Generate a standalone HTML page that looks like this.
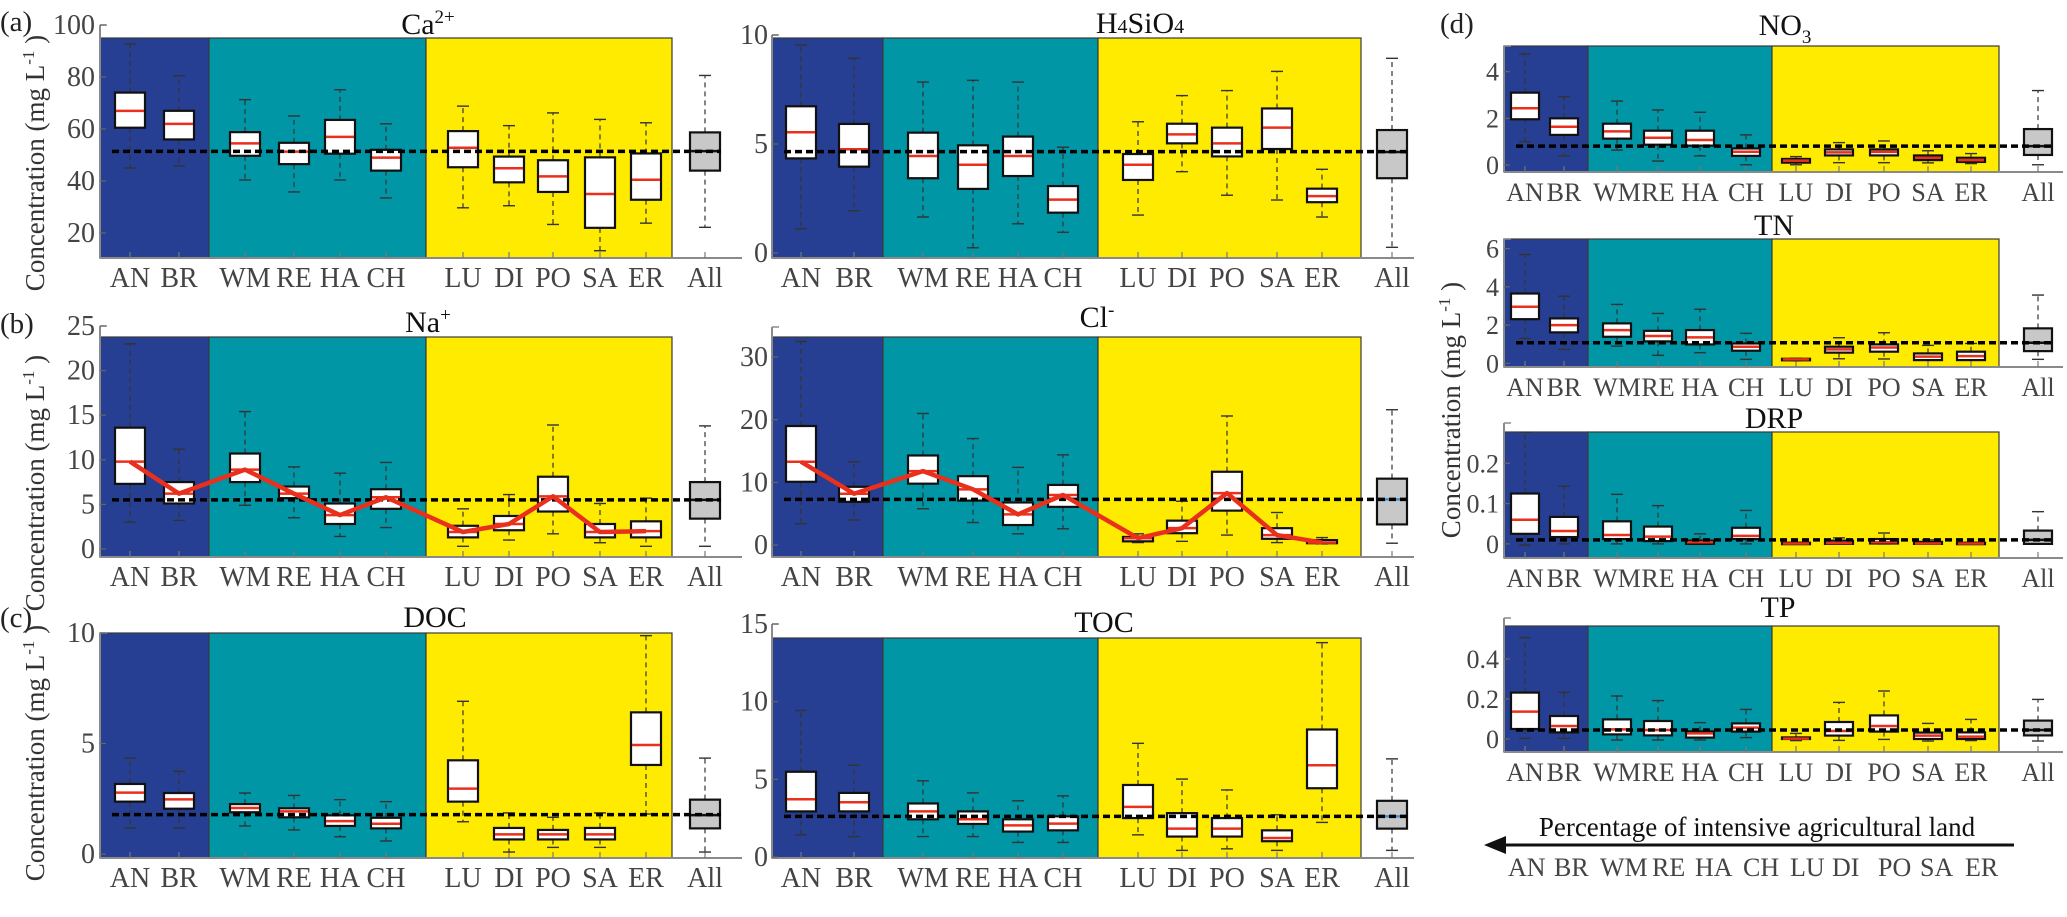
<!DOCTYPE html>
<html><head><meta charset="utf-8"><style>
html,body{margin:0;padding:0;background:#fff;}
svg, svg text{font-family:"Liberation Serif","Times New Roman",serif;}
</style></head><body>
<svg id="fig" width="2067" height="912" viewBox="0 0 2067 912" xmlns="http://www.w3.org/2000/svg" font-family="Liberation Serif, serif">
<g id="layer"></g>
<g id="static">
<text x="0" y="31" font-size="29" fill="#222">(a)</text>
<text x="0" y="333" font-size="29" fill="#222">(b)</text>
<text x="0" y="627" font-size="29" fill="#222">(c)</text>
<text x="1440" y="33" font-size="29" fill="#222">(d)</text>
<text transform="translate(44,163) rotate(-90)" text-anchor="middle" font-size="27" fill="#333">Concentration (mg L<tspan dy="-10" font-size="17">-1</tspan><tspan dy="10"> )</tspan></text>
<text transform="translate(44,483) rotate(-90)" text-anchor="middle" font-size="27" fill="#333">Concentration (mg L<tspan dy="-10" font-size="17">-1</tspan><tspan dy="10"> )</tspan></text>
<text transform="translate(44,753) rotate(-90)" text-anchor="middle" font-size="27" fill="#333">Concentration (mg L<tspan dy="-10" font-size="17">-1</tspan><tspan dy="10"> )</tspan></text>
<text transform="translate(1460,410) rotate(-90)" text-anchor="middle" font-size="27" fill="#333">Concentration (mg L<tspan dy="-10" font-size="17">-1</tspan><tspan dy="10"> )</tspan></text>
<g>
<text x="1757" y="836" text-anchor="middle" font-size="27" fill="#111">Percentage of intensive agricultural land</text>
<line x1="1500" y1="845" x2="2014" y2="845" stroke="#111" stroke-width="3"/>
<polygon points="1484,845 1506,836 1506,854" fill="#111"/>
<text y="876" font-size="26" fill="#444"><tspan x="1508">AN</tspan><tspan x="1554">BR</tspan><tspan x="1600">WM</tspan><tspan x="1652">RE</tspan><tspan x="1695">HA</tspan><tspan x="1743">CH</tspan><tspan x="1790">LU</tspan><tspan x="1832">DI</tspan><tspan x="1878">PO</tspan><tspan x="1920">SA</tspan><tspan x="1965">ER</tspan></text>
</g>
</g>
</svg>
<script>
const categories=['AN','BR','WM','RE','HA','CH','LU','DI','PO','SA','ER','All'];

const caLow=[45,45.8,40.4,35.8,40.4,33.5,29.7,30.5,23.3,13.2,23.8,22.2];
const caQ1=[60.5,56,49.7,46.5,50.5,44,45.3,39.5,35.8,22,32.8,44];
const caMed=[67,62,54.5,51.3,57,49,52.8,44.9,41.8,35,40.5,51.5];
const caQ3=[74,67,58.8,54.7,63.5,52,59.2,49.4,48,49.1,50.6,58.7];
const caHigh=[92.7,80.5,71.3,65,75.1,62,68.8,61.3,66.2,63.7,62.4,80.6];
const caMean=51.4;
const caTicks=[20,40,60,80,100];

const siLow=[1.11,1.94,1.65,0.24,1.34,0.95,1.74,3.73,2.65,2.43,1.65,0.26];
const siQ1=[4.34,3.96,3.43,2.94,3.53,1.85,3.35,5.03,4.43,4.77,2.33,3.43];
const siMed=[5.54,4.76,4.45,4.05,4.45,2.45,4.05,5.44,5.03,5.75,2.61,4.63];
const siQ3=[6.73,5.92,5.52,4.94,5.34,3.07,4.54,5.93,5.75,6.63,2.95,5.64];
const siHigh=[9.54,8.93,7.84,7.92,7.84,4.85,6.02,7.22,7.45,8.33,3.84,8.93];
const siMean=4.65;
const siTicks=[0,5,10];

const naLow=[3,3.2,4.9,3.5,1.4,2.4,0.3,1.0,1.7,0.7,0.3,0.3];
const naQ1=[7.3,5.1,7.5,5.7,2.8,4.5,1.3,2.1,4.2,1.3,1.3,3.4];
const naMed=[9.8,6.2,8.9,6.2,3.8,5.8,1.9,2.8,5.9,1.9,2.0,5.5];
const naQ3=[13.6,7.5,10.7,7.0,5.1,6.7,2.6,3.7,8.1,2.8,3.1,7.5];
const naHigh=[23,11.2,15.4,9.2,8.5,9.7,4.5,6.1,13.9,5.1,5.7,13.8];
const naMean=5.5;
const naTicks=[0,5,10,15,20,25];

const clLow=[3.4,4,5.8,3.6,1.8,2.6,0.4,0.6,1.6,0.4,0.2,0.3];
const clQ1=[10.1,6.9,9.8,7.1,3.2,6.1,0.6,1.9,5.5,1.0,0.3,3.3];
const clMed=[13.3,8.2,11.8,8.9,4.9,8.0,1.1,2.7,8.3,1.6,0.4,7.3];
const clQ3=[19,9.3,14.3,11,6.8,9.6,1.3,3.9,11.7,2.7,0.8,10.6];
const clHigh=[32.5,13.3,21,17,12.4,14.4,1.8,7,20.6,5.2,1.2,21.6];
const clMean=7.3;
const clTicks=[0,10,20,30];

const docLow=[1.18,1.18,1.27,1.09,0.78,0.59,1.46,0.09,0.3,0.3,1.81,0.09];
const docQ1=[2.37,2.05,1.89,1.66,1.27,1.16,2.37,0.66,0.66,0.66,4.03,1.16];
const docMed=[2.78,2.47,2.08,1.93,1.49,1.37,2.96,0.89,0.89,0.89,4.93,1.76];
const docQ3=[3.17,2.76,2.26,2.07,1.75,1.64,4.24,1.18,1.09,1.18,6.41,2.46];
const docHigh=[4.34,3.74,2.76,2.65,2.46,2.37,6.91,1.86,1.66,1.86,9.88,4.34];
const docMean=1.78;
const docTicks=[0,5,10];

const tocLow=[1.43,1.32,1.32,1.32,0.94,0.94,1.43,0.43,0.53,0.43,2.23,0.43];
const tocQ1=[2.94,2.94,2.43,2.13,1.64,1.72,2.51,1.32,1.32,1.02,4.43,1.83];
const tocMed=[3.72,3.53,2.94,2.43,2.04,2.15,3.23,1.83,1.83,1.23,5.91,2.62];
const tocQ3=[5.49,4.13,3.45,2.94,2.43,2.62,4.64,2.83,2.51,1.72,8.21,3.62];
const tocHigh=[9.43,5.91,4.91,4.13,3.62,3.94,7.32,5.02,4.32,2.72,13.8,6.32];
const tocMean=2.62;
const tocTicks=[0,5,10,15];

const no3Low=[1.0,0.39,0.64,0.17,0.39,0.01,0.01,0.1,0.1,0.09,0.06,0.01];
const no3Q1=[1.96,1.29,1.13,0.87,0.83,0.39,0.1,0.41,0.41,0.21,0.13,0.43];
const no3Med=[2.43,1.64,1.44,1.17,1.07,0.57,0.19,0.54,0.56,0.31,0.21,0.81];
const no3Q3=[3.1,2.0,1.77,1.47,1.47,0.71,0.26,0.67,0.67,0.41,0.31,1.54];
const no3High=[4.76,2.93,2.74,2.36,2.26,1.29,0.36,0.96,1.03,0.61,0.49,3.19];
const no3Mean=0.81;
const no3Ticks=[0,2,4];

const tnLow=[1.3,0.73,0.9,0.42,0.56,0.21,0.14,0.24,0.23,0.17,0.17,0.21];
const tnQ1=[2.31,1.62,1.39,1.15,0.99,0.66,0.16,0.56,0.61,0.17,0.17,0.64];
const tnMed=[2.96,2.0,1.74,1.43,1.36,0.87,0.21,0.73,0.83,0.35,0.38,1.08];
const tnQ3=[3.65,2.35,2.09,1.7,1.74,1.04,0.24,0.87,0.99,0.52,0.61,1.83];
const tnHigh=[5.69,3.51,3.08,2.61,2.83,1.57,0.26,1.34,1.6,0.94,1.04,3.57];
const tnMean=1.08;
const tnTicks=[0,2,4,6];

const drpLow=[-0.003,0,0,0,0,0,0,0,0,0,0,0];
const drpQ1=[0.025,0.017,0.012,0.007,0,0.012,0,0,0.001,0,0,0];
const drpMed=[0.06,0.032,0.022,0.018,0.004,0.02,0.001,0.002,0.004,0.001,0.001,0.01];
const drpQ3=[0.125,0.067,0.056,0.043,0.008,0.04,0.003,0.008,0.012,0.005,0.003,0.033];
const drpHigh=[0.277,0.143,0.123,0.095,0.025,0.083,0.004,0.015,0.027,0.01,0.004,0.08];
const drpMean=0.01;
const drpTicks=[0,0.1,0.2];

const tpLow=[0.003,0.003,-0.005,-0.005,-0.005,0.007,-0.008,-0.007,-0.002,-0.01,-0.008,-0.01];
const tpQ1=[0.05,0.033,0.023,0.018,0.007,0.037,0,0.017,0.037,0,0,0.018];
const tpMed=[0.137,0.065,0.048,0.045,0.028,0.057,0.002,0.04,0.065,0.017,0.012,0.045];
const tpQ3=[0.232,0.115,0.098,0.09,0.038,0.078,0.008,0.085,0.118,0.032,0.033,0.092];
const tpHigh=[0.507,0.233,0.215,0.192,0.082,0.148,0.028,0.183,0.24,0.078,0.098,0.198];
const tpMean=0.045;
const tpTicks=[0,0.2,0.4];

// ---- layout (not data) ----
const LEFT={x0:100,xEnd:742,blueEnd:209,tealEnd:426,yellowEnd:672,pos:[130,179,245,294,340,386,463,509,553,600,646,705],bw:30,tickX:95,fs:28};
const MID={x0:772,xEnd:1414,blueEnd:883,tealEnd:1098,yellowEnd:1361,pos:[801,854,923,973,1018,1063,1138,1182,1227,1277,1322,1392],bw:30,tickX:768,fs:28};
const RIGHT={x0:1504,xEnd:2063,blueEnd:1588,tealEnd:1772,yellowEnd:1999,pos:[1525,1564,1617,1658,1700,1746,1796,1839,1884,1928,1971,2038],bw:28,tickX:1499,fs:26};

const NS='http://www.w3.org/2000/svg';
const layer=document.getElementById('layer');
function mk(tag,attrs,parent){const e=document.createElementNS(NS,tag);for(const k in attrs)e.setAttribute(k,attrs[k]);(parent||layer).appendChild(e);return e;}

function drawPanel(p){
  const L=p.L;
  const g=mk('g',{});
  
  
  const y=v=>p.bottom-(v-p.vBottom)*(p.bottom-p.axisTop)/(p.vTop-p.vBottom);
  const x=i=>L.pos[i];
  const regs=[['region-low-agri',L.x0,L.blueEnd,'#263f93'],['region-mid-agri',L.blueEnd,L.tealEnd,'#0096a6'],['region-high-agri',L.tealEnd,L.yellowEnd,'#ffeb00']];
  regs.forEach(r=>{
    const e=mk('rect',{x:r[1],y:p.colTop,width:r[2]-r[1],height:p.bottom-p.colTop,fill:r[3],stroke:'#3a3a3a','stroke-width':1.2},g);
    
    
  });
  const ya=mk('line',{x1:L.x0,y1:p.axisTop,x2:L.x0,y2:p.bottom,stroke:'#8a8a8a','stroke-width':2},g);
  
  
  mk('line',{x1:L.x0,y1:p.axisTop,x2:L.x0+7,y2:p.axisTop,stroke:'#8a8a8a','stroke-width':1.5},g);
  const xa=mk('line',{x1:L.x0,y1:p.bottom,x2:L.xEnd,y2:p.bottom,stroke:'#8a8a8a','stroke-width':2},g);
  
  
  p.ticks.forEach(t=>{
    const ty=y(t);
    mk('line',{x1:L.x0,y1:ty,x2:L.x0+6,y2:ty,stroke:'#666','stroke-width':1.2},g);
    const lbl=mk('text',{x:L.tickX,y:ty+9,'text-anchor':'end','font-size':L.fs,fill:'#444','font-family':'Liberation Serif, serif'},g);
    
    
    lbl.textContent=p.fmt?p.fmt(t):String(t);
  });
  categories.forEach((c,i)=>{
    mk('line',{x1:x(i),y1:p.bottom,x2:x(i),y2:p.bottom-6,stroke:'#777','stroke-width':1.2},g);
    const lbl=mk('text',{x:x(i),y:p.bottom+29,'text-anchor':'middle','font-size':L.fs,fill:'#444','font-family':'Liberation Serif, serif'},g);
    
    
    lbl.textContent=c;
  });
  const tt=mk('text',{x:p.tx,y:p.ty,'text-anchor':'middle','font-size':30,fill:'#111','font-family':'Liberation Serif, serif'},g);
  
  
  tt.innerHTML=p.title;
  const hw=L.bw/2;
  categories.forEach((c,i)=>{
    const bg=mk('g',{},g);
    
    
    const dash={stroke:'#333','stroke-width':1.2,'stroke-dasharray':'5,4'};
    mk('line',Object.assign({x1:x(i),y1:y(p.q3[i]),x2:x(i),y2:y(p.hi[i])},dash),bg);
    mk('line',Object.assign({x1:x(i),y1:y(p.q1[i]),x2:x(i),y2:y(p.lo[i])},dash),bg);
    mk('line',{x1:x(i)-6,y1:y(p.hi[i]),x2:x(i)+6,y2:y(p.hi[i]),stroke:'#333','stroke-width':1.4},bg);
    mk('line',{x1:x(i)-6,y1:y(p.lo[i]),x2:x(i)+6,y2:y(p.lo[i]),stroke:'#333','stroke-width':1.4},bg);
    const top=y(p.q3[i]),bot=y(p.q1[i]);
    mk('rect',{x:x(i)-hw,y:top,width:L.bw,height:Math.max(bot-top,1.5),fill:c==='All'?'#c8c8c8':'#fff',stroke:'#111','stroke-width':2.2},bg);
    const mc=c==='All'?(p.blueAll?'#3d8fd6':'#111'):'#e8301c';
    const md=mk('line',{x1:x(i)-hw+1,y1:y(p.med[i]),x2:x(i)+hw-1,y2:y(p.med[i]),stroke:mc,'stroke-width':2.5},bg);
    
    
  });
  const ml=mk('line',{x1:L.x0+12,y1:y(p.mean),x2:x(11)+16,y2:y(p.mean),stroke:'#000','stroke-width':3.5,'stroke-dasharray':'7,4'},g);
  
  
  if(p.trend){
    const pts=categories.slice(0,11).map((c,i)=>x(i)+','+y(p.med[i])).join(' ');
    const pl=mk('polyline',{points:pts,fill:'none',stroke:'#e8301c','stroke-width':4.5,'stroke-linejoin':'round'},g);
    
    
  }
}

const fmt1=t=>t===0?'0':t.toFixed(1);
const panels=[
 {name:'ca',L:LEFT,bottom:258,vBottom:10.4,axisTop:25,vTop:100,colTop:38,ticks:caTicks,lo:caLow,q1:caQ1,med:caMed,q3:caQ3,hi:caHigh,mean:caMean,title:'Ca<tspan dy="-11" font-size="19">2+</tspan>',tx:428,ty:34},
 {name:'h4sio4',L:MID,bottom:258,vBottom:-0.23,axisTop:35,vTop:10,colTop:38,ticks:siTicks,lo:siLow,q1:siQ1,med:siMed,q3:siQ3,hi:siHigh,mean:siMean,title:'H<tspan font-size="20">4</tspan>SiO<tspan font-size="20">4</tspan>',tx:1140,ty:33},
 {name:'na',L:LEFT,bottom:557,vBottom:-0.9,axisTop:326,vTop:25,colTop:337,ticks:naTicks,lo:naLow,q1:naQ1,med:naMed,q3:naQ3,hi:naHigh,mean:naMean,trend:true,title:'Na<tspan dy="-11" font-size="19">+</tspan>',tx:428,ty:332},
 {name:'cl',L:MID,bottom:557,vBottom:-1.9,axisTop:327,vTop:34.8,colTop:337,ticks:clTicks,lo:clLow,q1:clQ1,med:clMed,q3:clQ3,hi:clHigh,mean:clMean,trend:true,blueAll:true,title:'Cl<tspan dy="-11" font-size="19">-</tspan>',tx:1097,ty:327},
 {name:'doc',L:LEFT,bottom:858,vBottom:-0.18,axisTop:633,vTop:10,colTop:633,ticks:docTicks,lo:docLow,q1:docQ1,med:docMed,q3:docQ3,hi:docHigh,mean:docMean,title:'DOC',tx:435,ty:627},
 {name:'toc',L:MID,bottom:858,vBottom:-0.06,axisTop:624,vTop:15,colTop:638,ticks:tocTicks,lo:tocLow,q1:tocQ1,med:tocMed,q3:tocQ3,hi:tocHigh,mean:tocMean,blueAll:true,title:'TOC',tx:1104,ty:632},
 {name:'no3',L:RIGHT,bottom:172,vBottom:-0.3,axisTop:46,vTop:5.1,colTop:46,ticks:no3Ticks,lo:no3Low,q1:no3Q1,med:no3Med,q3:no3Q3,hi:no3High,mean:no3Mean,title:'NO<tspan dy="8" font-size="19">3</tspan>',tx:1785,ty:35},
 {name:'tn',L:RIGHT,bottom:367,vBottom:-0.19,axisTop:239,vTop:6.5,colTop:239,ticks:tnTicks,lo:tnLow,q1:tnQ1,med:tnMed,q3:tnQ3,hi:tnHigh,mean:tnMean,title:'TN',tx:1774,ty:235},
 {name:'drp',L:RIGHT,bottom:558,vBottom:-0.035,axisTop:423,vTop:0.3,colTop:432,ticks:drpTicks,fmt:fmt1,lo:drpLow,q1:drpQ1,med:drpMed,q3:drpQ3,hi:drpHigh,mean:drpMean,title:'DRP',tx:1774,ty:428},
 {name:'tp',L:RIGHT,bottom:752,vBottom:-0.065,axisTop:618,vTop:0.605,colTop:626,ticks:tpTicks,fmt:fmt1,lo:tpLow,q1:tpQ1,med:tpMed,q3:tpQ3,hi:tpHigh,mean:tpMean,title:'TP',tx:1778,ty:617}
];
panels.forEach(drawPanel);
</script>
</body></html>
